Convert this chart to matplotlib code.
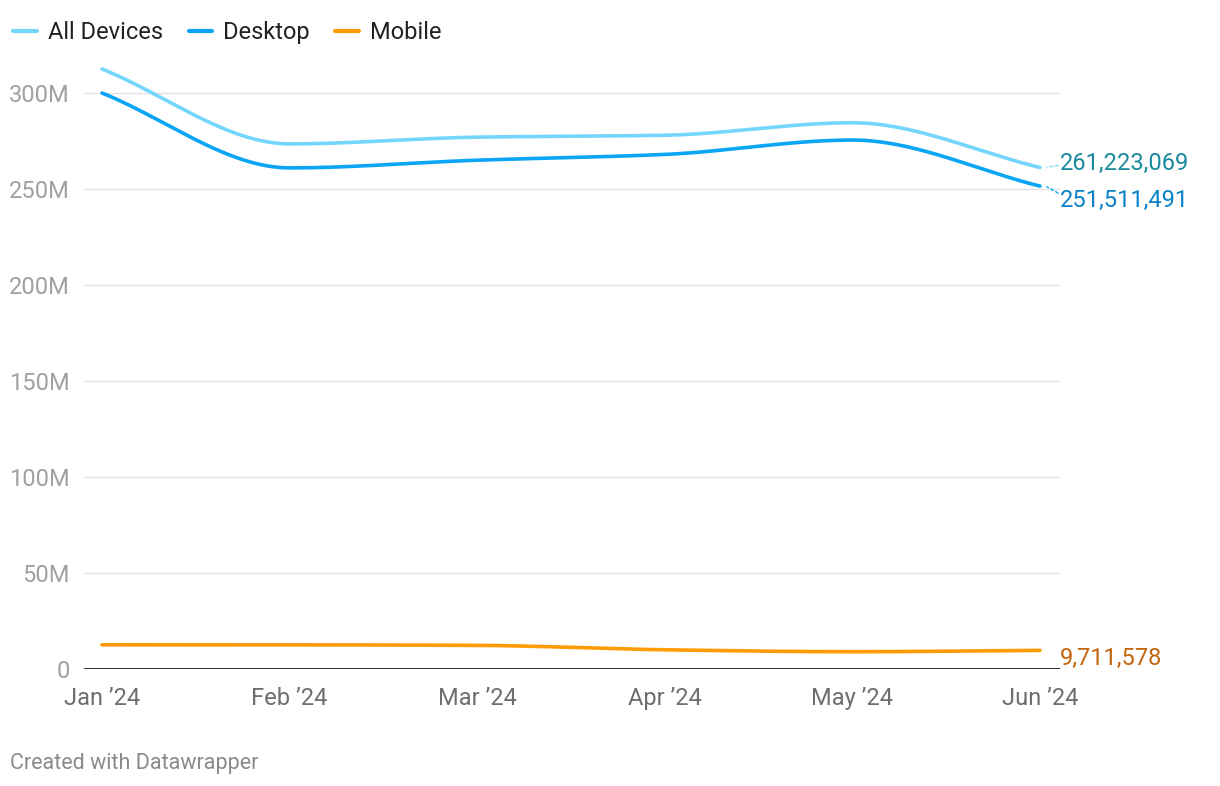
import numpy as np
import matplotlib.pyplot as plt

months = ["Jan \u201924", "Feb \u201924", "Mar \u201924", "Apr \u201924", "May \u201924", "Jun \u201924"]
all_devices = [312.5e6, 273.5e6, 277.0e6, 278.0e6, 284.5e6, 261223069]
desktop = [300.0e6, 261.0e6, 265.0e6, 268.0e6, 275.5e6, 251511491]
mobile = [12.6e6, 12.6e6, 12.3e6, 10.0e6, 9.0e6, 9711578]

yticks = [0, 50e6, 100e6, 150e6, 200e6, 250e6, 300e6]
ytick_labels = ["0", "50M", "100M", "150M", "200M", "250M", "300M"]

series = [
    ("All Devices", all_devices, "#74d6fd", "#1a8a9c", 3),
    ("Desktop", desktop, "#0aa5f5", "#0a82c8", -10),
    ("Mobile", mobile, "#ff9b05", "#c2650c", -5.5),
]


def monotone(x, y, n=60):
    # Fritsch-Carlson monotone cubic, same look as curveMonotoneX
    x = np.asarray(x, float)
    y = np.asarray(y, float)
    h = np.diff(x)
    d = np.diff(y) / h
    m = np.zeros_like(y)
    m[0], m[-1] = d[0], d[-1]
    for i in range(1, len(y) - 1):
        if d[i - 1] * d[i] <= 0:
            m[i] = 0
        else:
            m[i] = 3 * (h[i - 1] + h[i]) / ((2 * h[i] + h[i - 1]) / d[i - 1] + (h[i] + 2 * h[i - 1]) / d[i])
    xs, ys = [], []
    for i in range(len(h)):
        t = np.linspace(0, 1, n)
        h00 = 2 * t**3 - 3 * t**2 + 1
        h10 = t**3 - 2 * t**2 + t
        h01 = -2 * t**3 + 3 * t**2
        h11 = t**3 - t**2
        xs.append(x[i] + t * h[i])
        ys.append(h00 * y[i] + h10 * h[i] * m[i] + h01 * y[i + 1] + h11 * h[i] * m[i + 1])
    return np.concatenate(xs), np.concatenate(ys)


plt.rcParams['font.family'] = ['Roboto', 'DejaVu Sans']

fig = plt.figure(figsize=(12.2, 7.86), dpi=100)
ax = fig.add_axes([84 / 1220, 1 - 669 / 786, 976 / 1220, 609 / 786])

x = np.arange(len(months))
for name, vals, col, lcol, off in series:
    xs, ys = monotone(x, vals)
    ax.plot(xs, ys, color=col, lw=2.6, solid_capstyle='round', label=name, zorder=3)
    ax.annotate(f"{vals[-1]:,.0f}", xy=(x[-1], vals[-1]), xytext=(14, off),
                textcoords='offset points', color=lcol, fontsize=17, va='center', ha='left')
    if name != "Mobile":
        ax.annotate("", xy=(x[-1] + 0.03, vals[-1]), xytext=(9, off * 0.5),
                    textcoords='offset points',
                    arrowprops=dict(arrowstyle='-', color=col, lw=1, ls=(0, (2, 2)),
                                    shrinkA=0, shrinkB=1))

ax.set_xlim(-18 / 187.6, 5 + 20 / 187.6)
ax.set_ylim(0, 609 / 576 * 300e6)
ax.set_yticks(yticks)
ax.set_yticklabels(ytick_labels)
ax.set_xticks(x)
ax.set_xticklabels(months)
ax.tick_params(axis='y', length=0, pad=10, labelsize=17, labelcolor='#a0a0a0')
ax.tick_params(axis='x', length=0, pad=13, labelsize=17, labelcolor='#6e6e6e')
for yt in yticks[1:]:
    ax.axhline(yt, color='#e3e3e3', lw=1, zorder=1)
ax.axhline(0, color='#1d1d1d', lw=1.3, zorder=2)
for s in ax.spines.values():
    s.set_visible(False)

leg = fig.legend(loc='upper left', bbox_to_anchor=(4 / 1220, 1 - 12 / 786), ncol=3, frameon=False,
                 fontsize=17, handlelength=1.0, handletextpad=0.45, columnspacing=1.1,
                 borderaxespad=0)
for t in leg.get_texts():
    t.set_color('#222222')
for l in leg.get_lines():
    l.set_linewidth(3)

fig.text(10 / 1220, 1 - 763 / 786, "Created with Datawrapper", fontsize=15.5, color='#8a8a8a', va='center')

fig.savefig('out.png', dpi=100)
